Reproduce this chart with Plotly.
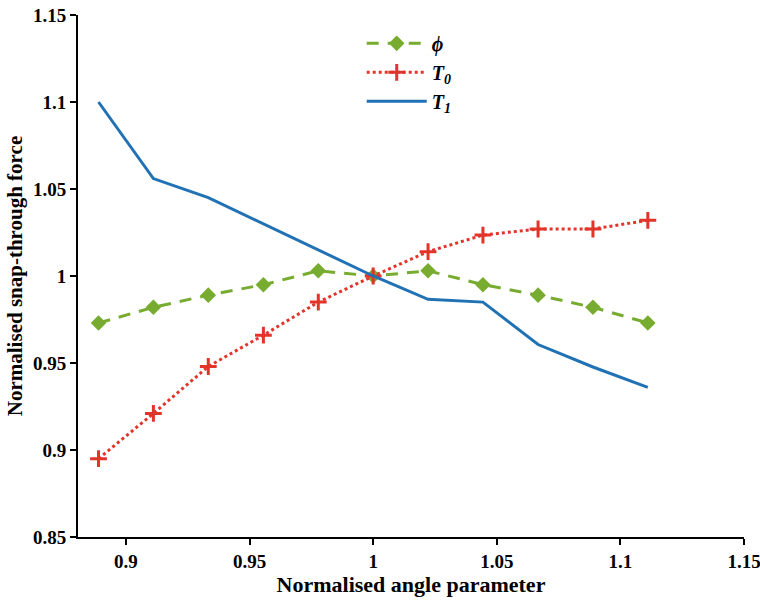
import plotly.graph_objects as go

x_vals = [0.8889, 0.9111, 0.9333, 0.9556, 0.9778, 1.0, 1.0222, 1.0444, 1.0667, 1.0889, 1.1111]
phi = [0.973, 0.982, 0.989, 0.995, 1.003, 1.0, 1.003, 0.995, 0.989, 0.982, 0.973]
T0 = [0.895, 0.921, 0.948, 0.966, 0.985, 1.0, 1.014, 1.0235, 1.027, 1.027, 1.032]
T1 = [1.100, 1.056, 1.045, 1.030, 1.015, 1.0, 0.9866, 0.985, 0.9606, 0.9477, 0.936]

x_ticks = [0.9, 0.95, 1.0, 1.05, 1.1, 1.15]
x_ticklabels = ["0.9", "0.95", "1", "1.05", "1.1", "1.15"]
y_ticks = [0.85, 0.9, 0.95, 1.0, 1.05, 1.1, 1.15]
y_ticklabels = ["0.85", "0.9", "0.95", "1", "1.05", "1.1", "1.15"]

font = "Liberation Serif, Times New Roman, serif"

fig = go.Figure()
fig.add_trace(go.Scatter(
    x=x_vals, y=phi, mode="lines+markers", name="<b><i>ϕ</i></b>",
    line=dict(color="#77AC30", width=3, dash="12px,9px"),
    marker=dict(symbol="diamond", size=12, color="#77AC30"),
))
fig.add_trace(go.Scatter(
    x=x_vals, y=T0, mode="lines+markers", name="<b><i>T<sub>0</sub></i></b>",
    line=dict(color="#E3342A", width=3, dash="dot"),
    marker=dict(symbol="cross-thin", size=12, line=dict(color="#E3342A", width=3)),
))
fig.add_trace(go.Scatter(
    x=x_vals, y=T1, mode="lines", name="<b><i>T<sub>1</sub></i></b>",
    line=dict(color="#2171B5", width=3),
))

axis_common = dict(
    showline=True, linecolor="black", linewidth=2,
    ticks="outside", ticklen=6, tickwidth=2, tickcolor="black",
    showgrid=False, zeroline=False, mirror=False,
    tickfont=dict(family=font, size=19, color="black"),
    ticklabeloverflow="allow", automargin=False,
)

fig.update_layout(
    width=760, height=601,
    margin=dict(l=78, r=16, t=15, b=64),
    paper_bgcolor="white", plot_bgcolor="white",
    font=dict(family=font, color="black"),
    xaxis=dict(range=[0.8806, 1.15], tickvals=x_ticks,
               ticktext=["<b>%s</b>" % t for t in x_ticklabels],
               title=dict(text="<b>Normalised angle parameter</b>", font=dict(family=font, size=22), standoff=6),
               **axis_common),
    yaxis=dict(range=[0.85, 1.15], tickvals=y_ticks,
               ticktext=["<b>%s</b>" % t for t in y_ticklabels],
               title=dict(text="<b>Normalised snap-through force</b>", font=dict(family=font, size=21), standoff=5),
               **axis_common),
    legend=dict(x=0.426, y=0.983, xanchor="left", yanchor="top",
                font=dict(family=font, size=20, color="black"),
                itemwidth=60,
                bgcolor="rgba(0,0,0,0)", tracegroupgap=0),
    showlegend=True,
)

fig.write_html("out.html", config={"displayModeBar": False},
               post_script="document.body.style.margin='0';document.body.style.overflow='hidden';")
